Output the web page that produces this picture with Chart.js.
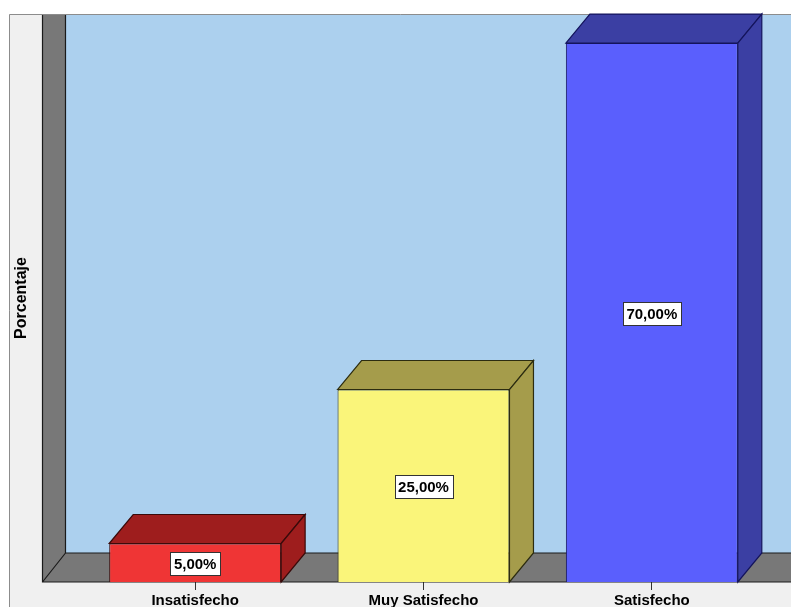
<!DOCTYPE html>
<html lang="es">
<head>
  <meta charset="UTF-8" />
  <title>Porcentaje por satisfacción</title>
  <script src="https://cdn.jsdelivr.net/npm/chart.js"></script>
  <style>
    body {
      margin: 0;
      background: #ffffff;
      overflow: hidden;
    }
    .chart-box {
      width: 791px;
      height: 607px;
      position: relative;
    }
  </style>
</head>
<body>
  <div class="chart-box">
    <canvas id="graficaSatisfaccion"></canvas>
  </div>

  <script>
    // datos
    const categorias = ['Insatisfecho', 'Muy Satisfecho', 'Satisfecho'];
    const porcentajes = [5, 25, 70];
    const coloresFrente = ['#ef3535', '#faf57a', '#5a5ffd'];
    const coloresLado = ['#9e1d1d', '#a59c4b', '#3b3fa3'];
    const coloresBorde = ['#3a0a0a', '#2c2c10', '#14145c'];

    // profundidad del efecto 3D
    const DX = 24;
    const DY = 29;
    const PARED_IZQ = 42;

    const fondo3D = {
      id: 'fondo3D',
      beforeDraw(chart) {
        const { ctx, width, height } = chart;
        ctx.save();
        ctx.fillStyle = '#ffffff';
        ctx.fillRect(0, 0, width, height);
        ctx.fillStyle = '#f0f0f0';
        ctx.fillRect(9, 14, width - 9, height - 14);
        ctx.strokeStyle = '#8c8c8c';
        ctx.lineWidth = 1;
        ctx.beginPath();
        ctx.moveTo(9.5, height);
        ctx.lineTo(9.5, 14.5);
        ctx.lineTo(width, 14.5);
        ctx.stroke();
        ctx.restore();
      },
      beforeDatasetsDraw(chart) {
        const { ctx, width } = chart;
        const { top, bottom } = chart.chartArea;
        const x0 = PARED_IZQ, x1 = PARED_IZQ + DX;
        const yb = bottom - DY;
        ctx.save();
        // pared del fondo
        ctx.fillStyle = '#acd0ee';
        ctx.fillRect(x1, top + 1, width - x1, yb - top - 1);
        // pared izquierda y piso
        ctx.fillStyle = '#787878';
        ctx.beginPath();
        ctx.moveTo(x0, top + 1);
        ctx.lineTo(x1, top + 1);
        ctx.lineTo(x1, yb);
        ctx.lineTo(width, yb);
        ctx.lineTo(width, bottom);
        ctx.lineTo(x0, bottom);
        ctx.closePath();
        ctx.fill();
        // bordes
        ctx.strokeStyle = '#1a1a1a';
        ctx.lineWidth = 1.2;
        ctx.beginPath();
        ctx.moveTo(x0 + 0.5, top + 1);
        ctx.lineTo(x0 + 0.5, bottom);
        ctx.lineTo(width, bottom);
        ctx.moveTo(x1 - 0.5, top + 1);
        ctx.lineTo(x1 - 0.5, yb);
        ctx.lineTo(width, yb);
        ctx.moveTo(x0 + 0.5, bottom);
        ctx.lineTo(x1 - 0.5, yb);
        ctx.stroke();
        ctx.restore();
      },
      afterDatasetsDraw(chart) {
        const { ctx } = chart;
        const meta = chart.getDatasetMeta(0);
        ctx.save();
        meta.data.forEach((bar, i) => {
          const { x, y, base, width } = bar.getProps(['x', 'y', 'base', 'width'], true);
          const l = x - width / 2, r = x + width / 2;
          ctx.fillStyle = coloresLado[i];
          ctx.strokeStyle = coloresBorde[i];
          ctx.lineWidth = 1.2;
          // cara superior
          ctx.beginPath();
          ctx.moveTo(l, y);
          ctx.lineTo(l + DX, y - DY);
          ctx.lineTo(r + DX, y - DY);
          ctx.lineTo(r, y);
          ctx.closePath();
          ctx.fill();
          ctx.stroke();
          // cara lateral
          ctx.beginPath();
          ctx.moveTo(r, y);
          ctx.lineTo(r + DX, y - DY);
          ctx.lineTo(r + DX, base - DY);
          ctx.lineTo(r, base);
          ctx.closePath();
          ctx.fill();
          ctx.stroke();

          // etiqueta del valor
          const texto = porcentajes[i].toFixed(2).replace('.', ',') + '%';
          ctx.font = 'bold 15px Arial, "Liberation Sans", sans-serif';
          const w = ctx.measureText(texto).width + 7;
          const h = 23;
          const cy = (y + base) / 2 + 1;
          ctx.fillStyle = '#ffffff';
          ctx.fillRect(Math.round(x - w / 2) + 0.5, Math.round(cy - h / 2) + 0.5, Math.round(w), h);
          ctx.strokeStyle = '#333333';
          ctx.lineWidth = 1;
          ctx.strokeRect(Math.round(x - w / 2) + 0.5, Math.round(cy - h / 2) + 0.5, Math.round(w), h);
          ctx.fillStyle = '#000000';
          ctx.textAlign = 'center';
          ctx.textBaseline = 'middle';
          ctx.fillText(texto, x, cy + 1);
        });
        ctx.restore();
      }
    };

    const ctx = document.getElementById('graficaSatisfaccion').getContext('2d');
    new Chart(ctx, {
      type: 'bar',
      data: {
        labels: categorias,
        datasets: [{
          data: porcentajes,
          backgroundColor: coloresFrente,
          borderColor: coloresBorde,
          borderWidth: 1,
          categoryPercentage: 1,
          barPercentage: 0.753
        }]
      },
      options: {
        responsive: true,
        maintainAspectRatio: false,
        animation: false,
        layout: { padding: { top: 14, right: 25, left: 0, bottom: 0 } },
        plugins: {
          legend: { display: false },
          tooltip: { enabled: false }
        },
        scales: {
          x: {
            afterFit(scale) { scale.height = 25; },
            border: { display: false },
            grid: {
              offset: false,
              drawOnChartArea: false,
              drawTicks: true,
              tickLength: 8,
              color: '#333333'
            },
            ticks: {
              padding: 2,
              color: '#000000',
              font: { family: 'Arial, "Liberation Sans", sans-serif', size: 15, weight: 'bold' }
            }
          },
          y: {
            min: 0,
            max: 73.77,
            afterFit(scale) { scale.width = 81; },
            border: { display: false },
            grid: { display: false },
            ticks: { display: false },
            title: {
              display: true,
              text: 'Porcentaje',
              color: '#000000',
              padding: { top: 12, bottom: 0 },
              font: { family: 'Arial, "Liberation Sans", sans-serif', size: 16, weight: 'bold' }
            }
          }
        }
      },
      plugins: [fondo3D]
    });
  </script>
</body>
</html>
